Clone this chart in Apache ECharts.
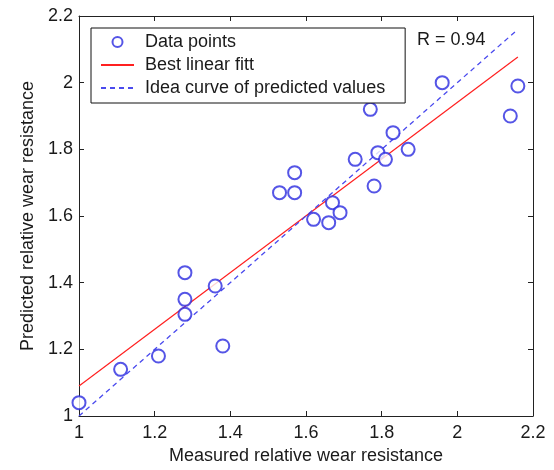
<!DOCTYPE html>
<html>
<head>
<meta charset="utf-8">
<script src="https://cdn.jsdelivr.net/npm/echarts@6/dist/echarts.min.js"></script>
<style>
  html, body { margin: 0; padding: 0; background: #fff; }
  #chart { width: 554px; height: 470px; }
</style>
</head>
<body>
<div id="chart"></div>
<script>
// Measured vs predicted relative wear resistance
const measured = [1.00, 1.11, 1.21, 1.28, 1.28, 1.28, 1.36, 1.38, 1.53, 1.57, 1.57, 1.62, 1.66, 1.67, 1.69, 1.73, 1.77, 1.78, 1.79, 1.81, 1.83, 1.87, 1.96, 2.14, 2.16];
const predicted = [1.04, 1.14, 1.18, 1.305, 1.35, 1.43, 1.39, 1.21, 1.67, 1.67, 1.73, 1.59, 1.58, 1.64, 1.61, 1.77, 1.92, 1.69, 1.79, 1.77, 1.85, 1.80, 2.00, 1.90, 1.99];

// Best linear fit end points [x, y]
const fitLine = [[1.00, 1.09], [2.16, 2.077]];
// Ideal prediction (y = x) end points
const idealLine = [[1.00, 1.00], [2.16, 2.16]];

const axisTicks = [1, 1.2, 1.4, 1.6, 1.8, 2, 2.2];
const legendNames = ['Data points', 'Best linear fitt', 'Idea curve of predicted values'];
const rText = 'R = 0.94';

const FONT = 'Liberation Sans, Arial, Helvetica, sans-serif';
const FS = 18;
const points = measured.map((m, i) => [m, predicted[i]]);

const chart = echarts.init(document.getElementById('chart'));

const baseAxis = {
  type: 'value',
  min: axisTicks[0],
  max: axisTicks[axisTicks.length - 1],
  interval: 0.2,
  splitLine: { show: false },
  axisLine: { show: true, lineStyle: { color: '#222', width: 1 } },
  axisTick: { show: true, inside: true, length: 5, lineStyle: { color: '#222' } },
  axisLabel: { color: '#1a1a1a', fontSize: FS, fontFamily: FONT }
};

chart.setOption({
  backgroundColor: '#fff',
  animation: false,
  grid: { left: 79, right: 21, top: 16, bottom: 51 },
  xAxis: [
    Object.assign({}, baseAxis, {
      position: 'bottom',
      name: 'Measured relative wear resistance',
      nameLocation: 'middle',
      nameGap: 31,
      nameTextStyle: { color: '#1a1a1a', fontSize: FS, fontFamily: FONT },
      axisLabel: Object.assign({}, baseAxis.axisLabel, { margin: 8 })
    }),
    Object.assign({}, baseAxis, { position: 'top', axisLabel: { show: false } })
  ],
  yAxis: [
    Object.assign({}, baseAxis, {
      position: 'left',
      name: 'Predicted relative wear resistance',
      nameLocation: 'middle',
      nameGap: 40,
      nameTextStyle: { color: '#1a1a1a', fontSize: FS, fontFamily: FONT },
      axisLabel: Object.assign({}, baseAxis.axisLabel, { margin: 6 })
    }),
    Object.assign({}, baseAxis, { position: 'right', axisLabel: { show: false } })
  ],
  legend: {
    left: 91,
    top: 28,
    orient: 'vertical',
    itemWidth: 33,
    itemHeight: 10,
    itemGap: 5,
    padding: [5, 20, 6, 9],
    borderColor: '#111',
    borderWidth: 1,
    borderRadius: 0,
    backgroundColor: '#fff',
    textStyle: { color: '#1a1a1a', fontSize: FS, fontFamily: FONT, lineHeight: 18, padding: [0, 0, 0, 6] },
    data: [
      { name: legendNames[0], icon: 'emptyCircle' },
      { name: legendNames[1], itemStyle: { opacity: 0 } },
      { name: legendNames[2], itemStyle: { opacity: 0 } }
    ]
  },
  graphic: [{
    type: 'text',
    left: 417,
    top: 31,
    style: { text: rText, fill: '#1a1a1a', font: FS + 'px ' + FONT }
  }],
  series: [
    {
      name: legendNames[0],
      type: 'scatter',
      data: points,
      symbol: 'emptyCircle',
      symbolSize: 13,
      itemStyle: { color: '#2a2ae0', borderColor: '#2a2ae0', borderWidth: 1.3 },
      z: 3
    },
    {
      name: legendNames[1],
      type: 'line',
      data: fitLine,
      symbol: 'none',
      itemStyle: { color: '#ff2020' },
      lineStyle: { color: '#ff2020', width: 1.2, type: 'solid' },
      z: 2
    },
    {
      name: legendNames[2],
      type: 'line',
      data: idealLine,
      symbol: 'none',
      itemStyle: { color: '#4a4aee' },
      lineStyle: { color: '#4a4aee', width: 1.3, type: [5, 4] },
      z: 2
    }
  ]
});
</script>
</body>
</html>
